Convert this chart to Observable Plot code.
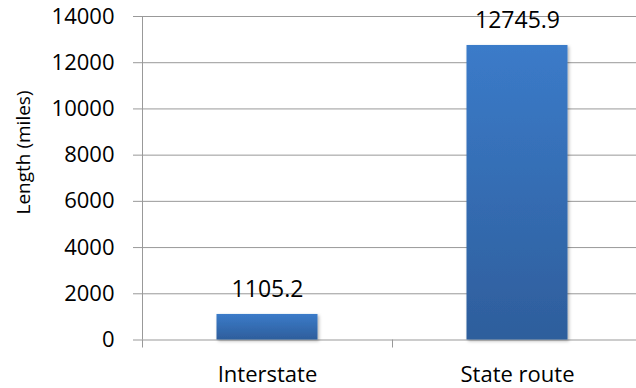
<!DOCTYPE html>
<html><head><meta charset="utf-8">
<script src="https://cdn.jsdelivr.net/npm/d3@7"></script>
<script src="https://cdn.jsdelivr.net/npm/@observablehq/plot@0.6"></script>
<style>body{margin:0;background:#fff} svg{display:block}</style>
</head><body><div id="chart"></div>
<script>
const categories = ["Interstate", "State route"];
const lengths = [1105.2, 12745.9];
const valueLabels = ["1105.2", "12745.9"];
const yTicks = [0, 2000, 4000, 6000, 8000, 10000, 12000, 14000];
const yTitle = "Length (miles)";

const data = categories.map((c, i) => ({category: c, i, length: lengths[i], label: valueLabels[i]}));
const gridColor = "#999999";
const font = "Open Sans";

const plot = Plot.plot({
  width: 636, height: 388,
  marginLeft: 142, marginRight: 0, marginTop: 16, marginBottom: 48.5,
  style: {fontFamily: font, fontSize: "22px", color: "#000", background: "#fff"},
  x: {domain: [0, 2], range: [142, 642]},
  y: {domain: [0, 14000]},
  marks: [
    Plot.gridY(yTicks, {stroke: gridColor, strokeOpacity: 1}),
    Plot.axisY(yTicks, {tickSize: 9, tickPadding: 19, stroke: gridColor, fill: "#000",
      tickFormat: d => String(d), label: null, fontSize: 22}),
    Plot.text([yTitle], {frameAnchor: "left", rotate: -90, dx: -119, dy: -25.75,
      textAnchor: "middle", lineAnchor: "middle", fontSize: 19, fill: "#000"}),
    Plot.ruleX([0], {y1: 0, y2: 14000, stroke: gridColor}),
    Plot.axisX([0, 1, 2], {tickSize: 8, stroke: gridColor, tickFormat: () => "", label: null}),
    Plot.axisX([0.5, 1.5], {tickSize: 0, tickPadding: 26, fill: "#000",
      tickFormat: d => categories[Math.floor(d)], label: null, fontSize: 22}),
    Plot.rectY(data, {x1: d => d.i, x2: d => d.i + 1, y: "length", insetLeft: 74.5, insetRight: 74.5,
      fill: "url(#barGrad)", className: "bars"}),
    Plot.text(data, {x: d => d.i + 0.5, y: "length", text: "label", dy: -25, fontSize: 23, fill: "#000"})
  ]
});

const svg = d3.select(plot);
svg.insert("defs", ":first-child").html(`
  <linearGradient id="barGrad" x1="0" y1="0" x2="0" y2="1">
    <stop offset="0" stop-color="#3b7bc9"/>
    <stop offset="1" stop-color="#2e5e9c"/>
  </linearGradient>
  <filter id="barShadow" x="-10%" y="-10%" width="130%" height="130%">
    <feDropShadow dx="1.5" dy="1.5" stdDeviation="1.5" flood-color="#000" flood-opacity="0.3"/>
  </filter>`);
svg.selectAll(".bars rect").attr("filter", "url(#barShadow)");

document.getElementById("chart").appendChild(plot);
</script>
</body></html>
